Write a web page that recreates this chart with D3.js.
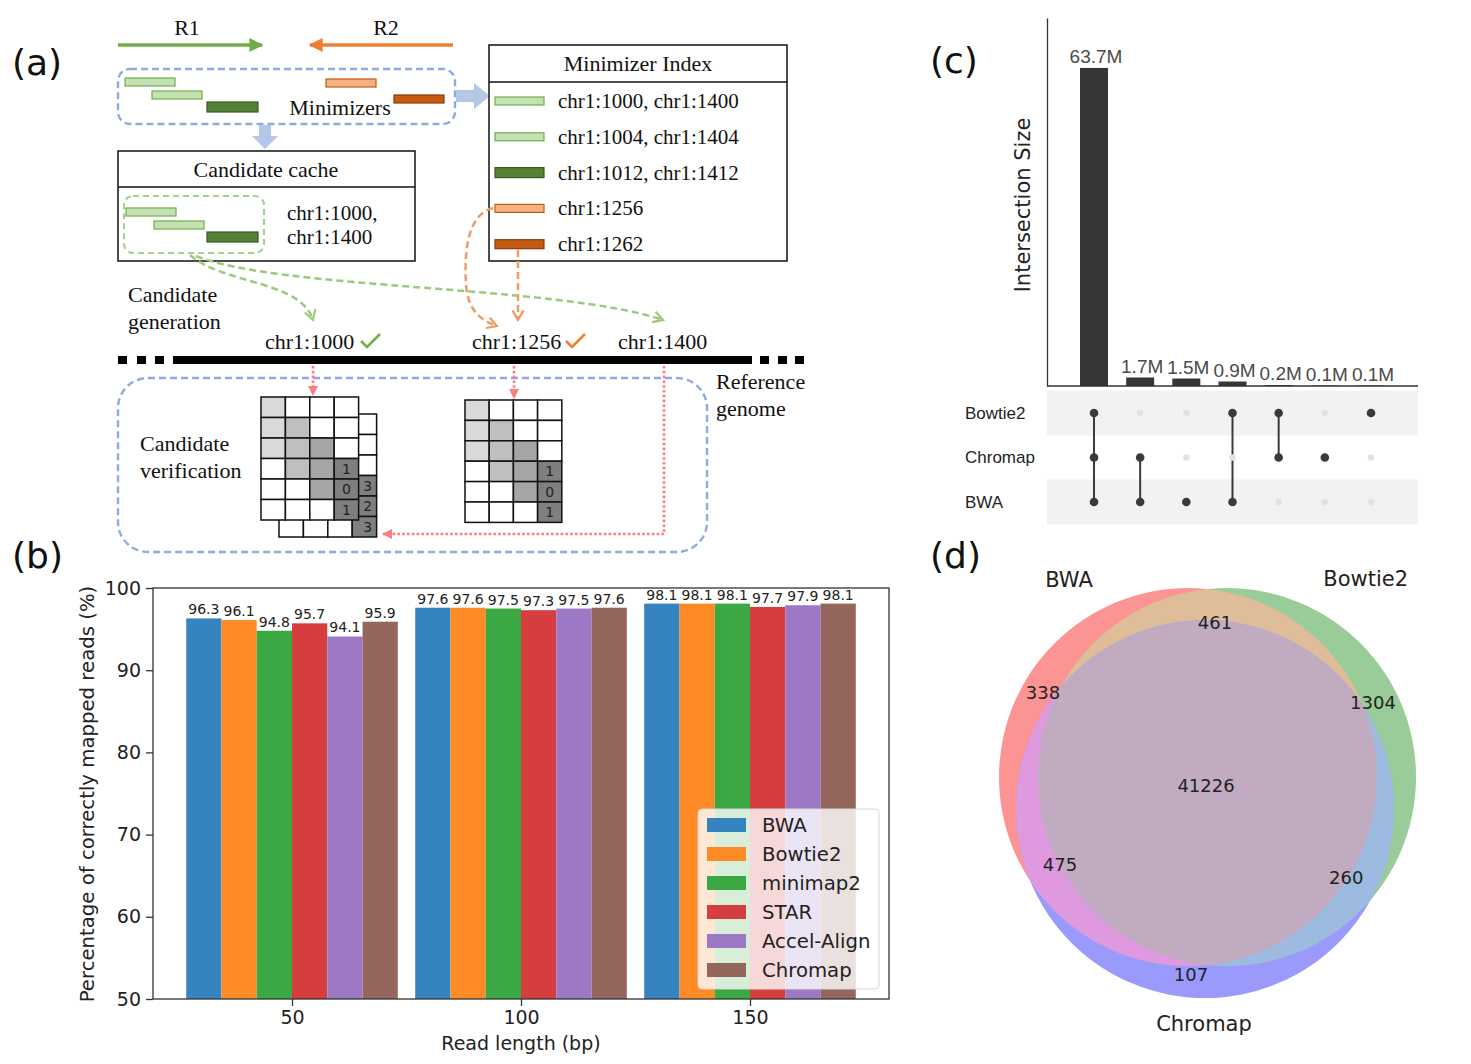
<!DOCTYPE html>
<html>
<head>
<meta charset="utf-8">
<script src="https://cdn.jsdelivr.net/npm/d3@7"></script>
<style>
body { margin: 0; background: #fff; }
</style>
</head>
<body>
<div class="chart"></div>
<script>
// ---- data ----
const readLengths = ['50', '100', '150'];
const mappers = ['BWA', 'Bowtie2', 'minimap2', 'STAR', 'Accel-Align', 'Chromap'];
const mapperColors = ['#3584bf', '#fe8a26', '#3ca843', '#d63d3e', '#9d79c5', '#95675c'];
const accuracy50 = [96.3, 96.1, 94.8, 95.7, 94.1, 95.9];
const accuracy100 = [97.6, 97.6, 97.5, 97.3, 97.5, 97.6];
const accuracy150 = [98.1, 98.1, 98.1, 97.7, 97.9, 98.1];
const accuracyTicks = [50, 60, 70, 80, 90, 100];

const upsetSets = ['Bowtie2', 'Chromap', 'BWA'];
const upsetSizes = [63.7, 1.7, 1.5, 0.9, 0.2, 0.1, 0.1];
const upsetLabels = ['63.7M', '1.7M', '1.5M', '0.9M', '0.2M', '0.1M', '0.1M'];
const upsetMembers = [
  ['Bowtie2', 'Chromap', 'BWA'], ['Chromap', 'BWA'], ['BWA'], ['Bowtie2', 'BWA'],
  ['Bowtie2', 'Chromap'], ['Chromap'], ['Bowtie2']
];

const vennSets = ['BWA', 'Bowtie2', 'Chromap'];
const vennRegions = ['100', '010', '001', '110', '101', '011', '111'];
const vennCounts = [338, 1304, 107, 461, 475, 260, 41226];

// ---- svg ----
const W = 1471, H = 1064;
const svg = d3.select('.chart').append('svg')
  .attr('width', W).attr('height', H)
  .style('display', 'block');
svg.append('rect').attr('width', W).attr('height', H).attr('fill', '#fff');

const SANS = 'DejaVu Sans, sans-serif';
const ARIAL = 'Liberation Sans, Arial, sans-serif';
const SERIF = 'Liberation Serif, Times New Roman, serif';

// panel letters
[['(a)', 12, 75], ['(b)', 12, 568], ['(c)', 930, 73], ['(d)', 930, 568]].forEach(p => {
  svg.append('text').attr('x', p[1]).attr('y', p[2])
    .attr('font-family', SANS).attr('font-size', 36).attr('fill', '#111').text(p[0]);
});

const defs = svg.append('defs');
function chevron(id, color) {
  defs.append('marker').attr('id', id)
    .attr('viewBox', '0 0 10 10').attr('refX', 8).attr('refY', 5)
    .attr('markerWidth', 5.5).attr('markerHeight', 5.5)
    .attr('markerUnits', 'strokeWidth').attr('orient', 'auto')
    .append('path').attr('d', 'M1,1 L8,5 L1,9')
    .attr('fill', 'none').attr('stroke', color).attr('stroke-width', 1.6);
}
function triangle(id, color) {
  defs.append('marker').attr('id', id)
    .attr('viewBox', '0 0 10 10').attr('refX', 9).attr('refY', 5)
    .attr('markerWidth', 4).attr('markerHeight', 4)
    .attr('markerUnits', 'strokeWidth').attr('orient', 'auto')
    .append('path').attr('d', 'M0,0 L10,5 L0,10 Z').attr('fill', color);
}
chevron('chevGreen', '#9dc97d');
chevron('chevOrange', '#f19c5f');
triangle('triRed', '#ff7c80');
triangle('triGreen', '#70ad47');
triangle('triOrange', '#ed7d31');

// ============ panel (a) : schematic ============
const a = svg.append('g');

function serifText(x, y, txt, anchor, size) {
  a.append('text').attr('x', x).attr('y', y)
    .attr('font-family', SERIF).attr('font-size', size || 22)
    .attr('text-anchor', anchor || 'start').attr('fill', '#111').text(txt);
}
function seedBar(x, y, w, fill, stroke, h) {
  a.append('rect').attr('x', x).attr('y', y).attr('width', w).attr('height', h || 8)
    .attr('fill', fill).attr('stroke', stroke).attr('stroke-width', 1.2);
}
const LG = ['#c5e0b4', '#70ad47'], DG = ['#548235', '#385723'];
const LO = ['#f4b183', '#c55a11'], DO = ['#c55a11', '#843c0c'];

// read arrows
serifText(187, 35, 'R1', 'middle');
serifText(386, 35, 'R2', 'middle');
a.append('line').attr('x1', 118).attr('x2', 262).attr('y1', 45).attr('y2', 45)
  .attr('stroke', '#70ad47').attr('stroke-width', 3.5).attr('marker-end', 'url(#triGreen)');
a.append('line').attr('x1', 453).attr('x2', 310).attr('y1', 45).attr('y2', 45)
  .attr('stroke', '#ed7d31').attr('stroke-width', 3.5).attr('marker-end', 'url(#triOrange)');

// minimizers box
a.append('rect').attr('x', 118).attr('y', 69).attr('width', 337).attr('height', 55).attr('rx', 12)
  .attr('fill', 'none').attr('stroke', '#8faadc').attr('stroke-width', 2.4).attr('stroke-dasharray', '7,4');
seedBar(125, 78, 50, LG[0], LG[1]);
seedBar(152, 91, 50, LG[0], LG[1]);
seedBar(207, 102, 51, DG[0], DG[1], 10);
seedBar(326, 79, 50, LO[0], LO[1]);
seedBar(394, 95, 50, DO[0], DO[1]);
serifText(340, 115, 'Minimizers', 'middle');

// block arrows
a.append('path').attr('d', 'M456,90 L474,90 L474,83 L490,96 L474,109 L474,102 L456,102 Z').attr('fill', '#b4c7e7');
a.append('path').attr('d', 'M259,125 L271,125 L271,136 L278,136 L265,149 L252,136 L259,136 Z').attr('fill', '#b4c7e7');

// candidate cache
a.append('rect').attr('x', 118).attr('y', 151).attr('width', 297).attr('height', 110)
  .attr('fill', 'none').attr('stroke', '#111').attr('stroke-width', 1.5);
a.append('line').attr('x1', 118).attr('x2', 415).attr('y1', 187).attr('y2', 187)
  .attr('stroke', '#111').attr('stroke-width', 1.5);
serifText(266, 177, 'Candidate cache', 'middle');
a.append('rect').attr('x', 124).attr('y', 196).attr('width', 140).attr('height', 57).attr('rx', 9)
  .attr('fill', 'none').attr('stroke', '#a9d18e').attr('stroke-width', 2.2).attr('stroke-dasharray', '6,4');
seedBar(126, 208, 50, LG[0], LG[1]);
seedBar(154, 221, 50, LG[0], LG[1]);
seedBar(207, 232, 51, DG[0], DG[1], 10);
serifText(287, 220, 'chr1:1000,', 'start', 21);
serifText(287, 244, 'chr1:1400', 'start', 21);

// minimizer index
a.append('rect').attr('x', 489).attr('y', 45).attr('width', 298).attr('height', 216)
  .attr('fill', 'none').attr('stroke', '#111').attr('stroke-width', 1.5);
a.append('line').attr('x1', 489).attr('x2', 787).attr('y1', 82).attr('y2', 82)
  .attr('stroke', '#111').attr('stroke-width', 1.5);
serifText(638, 71, 'Minimizer Index', 'middle');
const indexRows = [
  ['chr1:1000, chr1:1400', LG, 8], ['chr1:1004, chr1:1404', LG, 8], ['chr1:1012, chr1:1412', DG, 10],
  ['chr1:1256', LO, 8], ['chr1:1262', DO, 9]
];
indexRows.forEach((r, i) => {
  const y = 101 + i * 35.8;
  seedBar(495, y - r[2] / 2, 49, r[1][0], r[1][1], r[2]);
  serifText(558, y + 7, r[0], 'start', 21);
});

// candidate generation arrows
serifText(128, 302, 'Candidate');
serifText(128, 329, 'generation');
a.append('path').attr('d', 'M190,255 C225,285 300,280 313,320')
  .attr('fill', 'none').attr('stroke', '#9dc97d').attr('stroke-width', 2.5)
  .attr('stroke-dasharray', '7,4').attr('marker-end', 'url(#chevGreen)');
a.append('path').attr('d', 'M196,256 C280,290 560,285 663,320')
  .attr('fill', 'none').attr('stroke', '#9dc97d').attr('stroke-width', 2.5)
  .attr('stroke-dasharray', '7,4').attr('marker-end', 'url(#chevGreen)');
a.append('path').attr('d', 'M493,208 C468,214 464,250 466,285 C468,310 480,320 497,326')
  .attr('fill', 'none').attr('stroke', '#f19c5f').attr('stroke-width', 2.5)
  .attr('stroke-dasharray', '7,4').attr('marker-end', 'url(#chevOrange)');
a.append('path').attr('d', 'M518,250 L518,320')
  .attr('fill', 'none').attr('stroke', '#f19c5f').attr('stroke-width', 2.5)
  .attr('stroke-dasharray', '7,4').attr('marker-end', 'url(#chevOrange)');

serifText(265, 349, 'chr1:1000');
serifText(472, 349, 'chr1:1256');
serifText(618, 349, 'chr1:1400');
a.append('path').attr('d', 'M361,341 L367,347 L380,334').attr('fill', 'none')
  .attr('stroke', '#70ad47').attr('stroke-width', 2.6);
a.append('path').attr('d', 'M566,341 L572,347 L585,334').attr('fill', 'none')
  .attr('stroke', '#ed7d31').attr('stroke-width', 2.6);

// reference genome
a.append('rect').attr('x', 173).attr('y', 356).attr('width', 579).attr('height', 8).attr('fill', '#000');
[118, 137, 155, 760, 778, 795].forEach(x => {
  a.append('rect').attr('x', x).attr('y', 356).attr('width', 9).attr('height', 8).attr('fill', '#000');
});
serifText(716, 389, 'Reference');
serifText(716, 416, 'genome');

// candidate verification
a.append('rect').attr('x', 118).attr('y', 378).attr('width', 589).attr('height', 174).attr('rx', 30)
  .attr('fill', 'none').attr('stroke', '#8faadc').attr('stroke-width', 2.4).attr('stroke-dasharray', '7,4');
serifText(140, 451, 'Candidate');
serifText(140, 478, 'verification');

['M313,366 L313,395', 'M514,366 L514,398', 'M664,366 L664,534 L383,534'].forEach(d => {
  a.append('path').attr('d', d).attr('fill', 'none').attr('stroke', '#ff7c80')
    .attr('stroke-width', 2.6).attr('stroke-dasharray', '2.6,2.2').attr('marker-end', 'url(#triRed)');
});

const shadeColor = {W: '#ffffff', L: '#d9d9d9', M: '#bfbfbf', N: '#a5a5a5', D: '#7f7f7f'};
const frontShades = ['LWWW', 'LMWW', 'LMNW', 'WMND', 'WWND', 'WWWD'];
const backShades = ['WWWW', 'WWWW', 'WWWW', 'WWWD', 'WWWD', 'WWWD'];
function drawMatrix(x0, y0, cw, ch, shades, nums, numDx) {
  shades.forEach((row, r) => {
    row.split('').forEach((s, c) => {
      a.append('rect').attr('x', x0 + c * cw).attr('y', y0 + r * ch)
        .attr('width', cw).attr('height', ch)
        .attr('fill', shadeColor[s]).attr('stroke', '#111').attr('stroke-width', 1.5);
    });
  });
  nums.forEach((n, i) => {
    a.append('text').attr('x', x0 + 3 * cw + cw * numDx).attr('y', y0 + (3 + i) * ch + ch / 2)
      .attr('dominant-baseline', 'central').attr('text-anchor', 'middle')
      .attr('font-family', SANS).attr('font-size', 14).attr('fill', '#222').text(n);
  });
}
drawMatrix(279, 414, 24.4, 20.5, backShades, ['3', '2', '3'], 0.64);
drawMatrix(261, 397, 24.4, 20.5, frontShades, ['1', '0', '1'], 0.5);
drawMatrix(465, 400, 24.2, 20.4, frontShades, ['1', '0', '1'], 0.5);

// ============ panel (b) : grouped bars ============
const bx = d3.scaleLinear().domain([-0.607, 2.607]).range([153, 889]);
const by = d3.scaleLinear().domain([50, 100]).range([999, 588]);
const barW = 0.154;
const accuracy = [accuracy50, accuracy100, accuracy150];
const barData = [];
accuracy.forEach((vals, g) => vals.forEach((v, i) => barData.push({g: g, i: i, v: v})));

const b = svg.append('g');
b.selectAll('rect.bar').data(barData).enter().append('rect')
  .attr('class', 'bar')
  .attr('x', d => bx(d.g + (d.i - 3) * barW))
  .attr('width', d => bx(barW) - bx(0))
  .attr('y', d => by(d.v))
  .attr('height', d => by(50) - by(d.v))
  .attr('fill', d => mapperColors[d.i]);
b.selectAll('text.val').data(barData).enter().append('text')
  .attr('class', 'val')
  .attr('x', d => bx(d.g + (d.i - 2.5) * barW))
  .attr('y', d => by(d.v) - 4)
  .attr('text-anchor', 'middle')
  .attr('font-family', SANS).attr('font-size', 14).attr('fill', '#222')
  .text(d => d.v.toFixed(1));

b.append('g').attr('transform', 'translate(153,0)')
  .call(d3.axisLeft(by).tickValues(accuracyTicks).tickSize(7).tickSizeOuter(0).tickPadding(5))
  .call(g => g.select('.domain').remove())
  .call(g => g.selectAll('text').attr('font-family', SANS).attr('font-size', 19).attr('fill', '#222'))
  .call(g => g.selectAll('line').attr('stroke', '#333').attr('stroke-width', 1.3));
b.append('g').attr('transform', 'translate(0,999)')
  .call(d3.axisBottom(bx).tickValues([0, 1, 2]).tickFormat(i => readLengths[i]).tickSize(7).tickSizeOuter(0).tickPadding(5))
  .call(g => g.select('.domain').remove())
  .call(g => g.selectAll('text').attr('font-family', SANS).attr('font-size', 19).attr('fill', '#222'))
  .call(g => g.selectAll('line').attr('stroke', '#333').attr('stroke-width', 1.3));
b.append('rect').attr('x', 153).attr('y', 588).attr('width', 736).attr('height', 411)
  .attr('fill', 'none').attr('stroke', '#333').attr('stroke-width', 1.3);

b.append('text').attr('transform', 'translate(94,794) rotate(-90)')
  .attr('text-anchor', 'middle').attr('font-family', SANS).attr('font-size', 19.7).attr('fill', '#222')
  .text('Percentage of correctly mapped reads (%)');
b.append('text').attr('x', 521).attr('y', 1050)
  .attr('text-anchor', 'middle').attr('font-family', SANS).attr('font-size', 19).attr('fill', '#222')
  .text('Read length (bp)');

// legend
const lg = b.append('g');
lg.append('rect').attr('x', 698).attr('y', 809).attr('width', 181).attr('height', 180).attr('rx', 4)
  .attr('fill', '#fff').attr('fill-opacity', 0.8).attr('stroke', '#d8d8d8');
mappers.forEach((m, i) => {
  const y = 825 + i * 29;
  lg.append('rect').attr('x', 707).attr('y', y - 7).attr('width', 39).attr('height', 14).attr('fill', mapperColors[i]);
  lg.append('text').attr('x', 762).attr('y', y).attr('dominant-baseline', 'central')
    .attr('font-family', SANS).attr('font-size', 19.7).attr('fill', '#222').text(m);
});

// ============ panel (c) : upset ============
const c = svg.append('g');
const cx = d3.scalePoint().domain(d3.range(upsetSizes.length)).range([1094, 1371]);
const cy = d3.scaleLinear().domain([0, 73.7]).range([386, 18]);
const rowY = d3.scalePoint().domain(upsetSets).range([413, 502]);
const cBarW = 28;

// matrix stripes
[upsetSets[0], upsetSets[2]].forEach(s => {
  c.append('rect').attr('x', 1047).attr('y', rowY(s) - 22.5).attr('width', 371).attr('height', 45).attr('fill', '#f2f2f2');
});

c.selectAll('rect.ubar').data(upsetSizes).enter().append('rect')
  .attr('class', 'ubar')
  .attr('x', (d, i) => cx(i) - cBarW / 2).attr('width', cBarW)
  .attr('y', d => cy(d)).attr('height', d => cy(0) - cy(d))
  .attr('fill', '#363636');
c.selectAll('text.ulab').data(upsetLabels).enter().append('text')
  .attr('class', 'ulab')
  .attr('x', (d, i) => cx(i) + 2).attr('y', (d, i) => cy(upsetSizes[i]) - 5)
  .attr('text-anchor', 'middle').attr('font-family', ARIAL).attr('font-size', 19).attr('fill', '#4a4a4a')
  .text(d => d);

c.append('g').attr('transform', 'translate(1047,0)')
  .call(d3.axisLeft(cy).tickValues([]).tickSizeOuter(0))
  .call(g => g.select('.domain').attr('stroke', '#333').attr('stroke-width', 1.3));
c.append('line').attr('x1', 1047).attr('x2', 1418).attr('y1', 386).attr('y2', 386)
  .attr('stroke', '#333').attr('stroke-width', 1.3);
c.append('text').attr('transform', 'translate(1030,205) rotate(-90)')
  .attr('text-anchor', 'middle').attr('font-family', SANS).attr('font-size', 21).attr('fill', '#222')
  .text('Intersection Size');

upsetSets.forEach(s => {
  c.append('text').attr('x', 965).attr('y', rowY(s)).attr('dominant-baseline', 'central')
    .attr('font-family', ARIAL).attr('font-size', 17).attr('fill', '#222').text(s);
});
upsetMembers.forEach((mem, i) => {
  const ys = mem.map(s => rowY(s));
  if (mem.length > 1) {
    c.append('line').attr('x1', cx(i)).attr('x2', cx(i))
      .attr('y1', d3.min(ys)).attr('y2', d3.max(ys))
      .attr('stroke', '#3a3a3a').attr('stroke-width', 2);
  }
  upsetSets.forEach(s => {
    const on = mem.indexOf(s) >= 0;
    c.append('circle').attr('cx', cx(i)).attr('cy', rowY(s))
      .attr('r', on ? 4.3 : 3.3).attr('fill', on ? '#3a3a3a' : '#e2e2e2');
  });
});

// ============ panel (d) : venn ============
const d = svg.append('g');
const vennR = 189;
const vx = d3.scaleLinear().domain([-1, 1]).range([1207 - vennR, 1207 + vennR]);
const vy = d3.scaleLinear().domain([-1, 1]).range([792 - vennR, 792 + vennR]);
// circle centres and label anchors in units of radius
const vennCentres = [[-0.1005, -0.079], [0.106, -0.079], [-0.011, 0.09]];
const vennLabelPos = [[-0.868, -0.524], [0.878, -0.471], [-0.085, 0.963], [0.042, -0.899],
  [-0.778, 0.381], [0.737, 0.450], [-0.005, -0.032]];
const vennNamePos = [[-0.73, -1.12], [0.84, -1.125], [-0.016, 1.23]];
const regionColor = {
  '100': '#fc9494', '010': '#99cc99', '001': '#9a9afc',
  '110': '#e0bd99', '101': '#df99df', '011': '#9dbbe0', '111': '#c1abc1'
};

vennCentres.forEach((p, i) => {
  defs.append('clipPath').attr('id', 'vclip' + i)
    .append('circle').attr('cx', vx(p[0])).attr('cy', vy(p[1])).attr('r', vennR);
});
function vCircle(parent, i, fill) {
  return parent.append('circle').attr('cx', vx(vennCentres[i][0])).attr('cy', vy(vennCentres[i][1]))
    .attr('r', vennR).attr('fill', fill);
}
vCircle(d, 0, regionColor['100']);
vCircle(d, 1, regionColor['010']);
vCircle(d, 2, regionColor['001']);
vCircle(d.append('g').attr('clip-path', 'url(#vclip0)'), 1, regionColor['110']);
vCircle(d.append('g').attr('clip-path', 'url(#vclip0)'), 2, regionColor['101']);
vCircle(d.append('g').attr('clip-path', 'url(#vclip1)'), 2, regionColor['011']);
vCircle(d.append('g').attr('clip-path', 'url(#vclip0)').append('g').attr('clip-path', 'url(#vclip1)'), 2, regionColor['111']);

vennRegions.forEach((r, i) => {
  d.append('text').attr('x', vx(vennLabelPos[i][0])).attr('y', vy(vennLabelPos[i][1]))
    .attr('text-anchor', 'middle').attr('dominant-baseline', 'central')
    .attr('font-family', SANS).attr('font-size', 18).attr('fill', '#222').text(vennCounts[i]);
});
vennSets.forEach((s, i) => {
  d.append('text').attr('x', vx(vennNamePos[i][0])).attr('y', vy(vennNamePos[i][1]))
    .attr('text-anchor', 'middle').attr('dominant-baseline', 'central')
    .attr('font-family', SANS).attr('font-size', 21).attr('fill', '#222').text(s);
});
</script>
</body>
</html>
